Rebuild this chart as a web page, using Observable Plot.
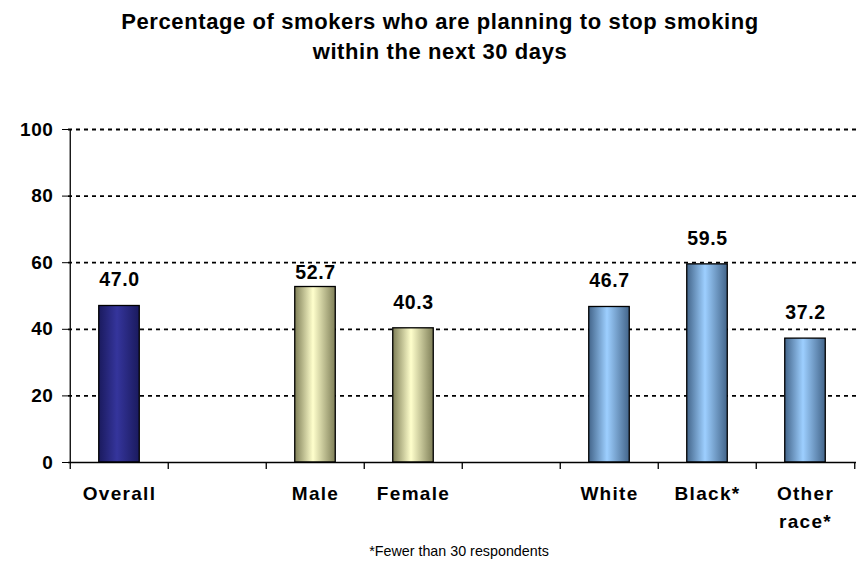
<!DOCTYPE html>
<html>
<head>
<meta charset="utf-8">
<script src="https://cdn.jsdelivr.net/npm/d3@7"></script>
<script src="https://cdn.jsdelivr.net/npm/@observablehq/plot@0.6"></script>
<style>
  body { margin: 0; background: #fff; }
  #wrap { position: relative; width: 865px; height: 561px; overflow: hidden; }
  #title { position: absolute; left: 0; top: 7px; width: 880px; text-align: center;
    font: bold 22px "Liberation Sans", Arial, sans-serif; letter-spacing: 0.6px; line-height: 30px; color: #000; }
  #cap { position: absolute; left: 0; top: 541px; width: 918px; text-align: center;
    font: 14.3px "Liberation Sans", Arial, sans-serif; line-height: 20px; color: #000; }
  #chart { position: absolute; left: 0; top: 0; }
</style>
</head>
<body>
<div id="wrap">
  <div id="chart"></div>
  <div id="title">Percentage of smokers who are planning to stop smoking<br>within the next 30 days</div>
  <div id="cap">*Fewer than 30 respondents</div>
</div>
<script>
const categories = ["Overall", "Male", "Female", "White", "Black*", "Other\nrace*"];
const values = [47.0, 52.7, 40.3, 46.7, 59.5, 37.2];
const groups = ["overall", "sex", "sex", "race", "race", "race"];
const yTicks = [0, 20, 40, 60, 80, 100];

const data = categories.map((c, i) => ({category: c, value: values[i], group: groups[i]}));

// x slots: categories with a blank slot between groups
const slots = [];
data.forEach((d, i) => {
  if (i > 0 && groups[i] !== groups[i - 1]) slots.push("gap" + i);
  slots.push(d.category);
});

const W = 865, H = 561;
const mL = 68, mR = 9, mT = 129, mB = 99;
const bw = (W - mL - mR) / slots.length;
const barInset = (bw - 41) / 2;
const pxPerUnit = (H - mT - mB) / 100;

// labels that would sit on a gridline are tucked just above the bar instead
const labelOffset = 26;
const nearGrid = d => yTicks.some(t => t > 0 && Math.abs(d.value + labelOffset / pxPerUnit - t) < 2);

const gradients = {
  overall: ["#1a1a5e", "#35359c", "#1a1a5e"],
  sex: ["#7f7f58", "#ffffcc", "#7f7f58"],
  race: ["#43658a", "#9dcfff", "#43658a"]
};

const defs = () => {
  const d = d3.create("svg:defs");
  for (const [k, [a, b, c]] of Object.entries(gradients)) {
    const g = d.append("linearGradient").attr("id", "grad-" + k)
      .attr("x1", 0).attr("x2", 1).attr("y1", 0).attr("y2", 0);
    g.append("stop").attr("offset", "0%").attr("stop-color", a);
    g.append("stop").attr("offset", "45%").attr("stop-color", b);
    g.append("stop").attr("offset", "100%").attr("stop-color", c);
  }
  return d.node();
};

const boundaries = slots.map((s) => ({s, dx: -bw / 2})).concat([{s: slots[slots.length - 1], dx: bw / 2}]);

const labelOpts = {x: "category", y: "value", text: d => d.value.toFixed(1),
  lineAnchor: "middle", fontSize: 19.5, fontWeight: "bold", fill: "#000"};

const chart = Plot.plot({
  width: W,
  height: H,
  marginLeft: mL,
  marginRight: mR,
  marginTop: mT,
  marginBottom: mB,
  style: {fontFamily: "'Liberation Sans', Arial, sans-serif", fontSize: "19px", fontWeight: "bold", color: "#000", background: "transparent", letterSpacing: "0.6px"},
  x: {domain: slots, padding: 0, axis: null},
  y: {domain: [0, 100], ticks: yTicks, tickSize: 6, tickPadding: 9, label: null, tickFormat: d3.format("d")},
  marks: [
    defs,
    Plot.ruleY(yTicks.filter(t => t > 0), {stroke: "#000", strokeWidth: 1.8, strokeDasharray: "4,4"}),
    ...Object.keys(gradients).map(k =>
      Plot.barY(data.filter(d => d.group === k), {
        x: "category", y: "value", fill: `url(#grad-${k})`,
        stroke: "#000", strokeWidth: 1.3, insetLeft: barInset, insetRight: barInset
      })
    ),
    Plot.text(data.filter(d => !nearGrid(d)), {...labelOpts, dy: -labelOffset}),
    Plot.text(data.filter(nearGrid), {...labelOpts, dy: -14}),
    Plot.ruleY([0], {stroke: "#000", strokeWidth: 1.3}),
    ...boundaries.map(b => Plot.ruleX([b.s], {x: d => d, y1: 0, y2: -2.1, dx: b.dx, stroke: "#000", strokeWidth: 1.3})),
    Plot.ruleX([slots[0]], {x: d => d, y1: 0, y2: 100, dx: -bw / 2, stroke: "#000", strokeWidth: 1.3}),
    Plot.text(data, {
      x: "category", frameAnchor: "bottom", text: "category", lineAnchor: "top",
      dy: 17, lineHeight: 1.5, fontSize: 19, fontWeight: "bold", fill: "#000"
    })
  ]
});
chart.querySelectorAll("text").forEach(t => {
  if (t.closest("[aria-label='text']") && /[A-Za-z]/.test(t.textContent)) t.style.letterSpacing = "1.3px";
});
document.getElementById("chart").appendChild(chart);
</script>
</body>
</html>
